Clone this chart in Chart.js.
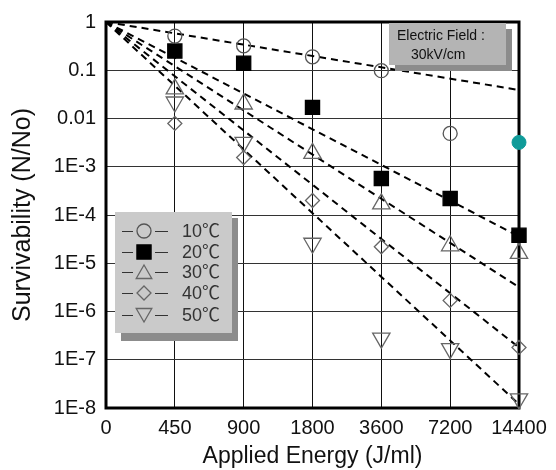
<!DOCTYPE html>
<html>
<head>
<meta charset="utf-8">
<script src="https://cdn.jsdelivr.net/npm/chart.js@4/dist/chart.umd.min.js"></script>
<style>
  html, body { margin: 0; padding: 0; background: #fff; }
  #wrap { width: 556px; height: 470px; }
</style>
</head>
<body>
<div id="wrap"><canvas id="c" width="556" height="470"></canvas></div>
<script>
// ---- data ----
const xLabels = ['0', '450', '900', '1800', '3600', '7200', '14400'];
const yTickValues = [1e-8, 1e-7, 1e-6, 1e-5, 1e-4, 1e-3, 0.01, 0.1, 1];
const yTickLabels = ['1E-8', '1E-7', '1E-6', '1E-5', '1E-4', '1E-3', '0.01', '0.1', '1'];
const seriesNames = ['10\u2103', '20\u2103', '30\u2103', '40\u2103', '50\u2103'];
const s10 = [null, 0.51, 0.32, 0.19, 0.098, 0.0049, null];
const s20 = [null, 0.25, 0.14, 0.017, 5.7e-4, 2.2e-4, 3.8e-5];
const s30 = [null, 0.041, 0.020, 1.9e-3, 1.7e-4, 2.3e-5, 1.6e-5];
const s40 = [null, 0.0079, 1.55e-3, 2.0e-4, 2.2e-5, 1.7e-6, 1.8e-7];
const s50 = [null, 0.022, 3.2e-3, 2.6e-5, 2.8e-7, 1.7e-7, 1.55e-8];
const tealPoint = [null, null, null, null, null, null, 3.2e-3];
// fitted lines: start value at index 0, end value at index 6
const fitStart = [1, 1, 1, 1, 1];
const fitEnd = [0.039, 3.6e-5, 3.2e-6, 1.8e-7, 1.2e-8];
const boxText = ['Electric Field :', '30kV/cm'];

const toPts = arr => arr.map((v, i) => v == null ? null : { x: i, y: v }).filter(p => p);

const markerStyles = [
  { pointStyle: 'circle', radius: 7, fill: 'rgba(0,0,0,0)', stroke: '#555', rotation: 0 },
  { pointStyle: 'rect', radius: 10, fill: '#000', stroke: '#000', rotation: 0 },
  { pointStyle: 'triangle', radius: 10, fill: 'rgba(0,0,0,0)', stroke: '#666', rotation: 0 },
  { pointStyle: 'rectRot', radius: 7, fill: 'rgba(0,0,0,0)', stroke: '#666', rotation: 0 },
  { pointStyle: 'triangle', radius: 10, fill: 'rgba(0,0,0,0)', stroke: '#666', rotation: 180 }
];
const seriesData = [s10, s20, s30, s40, s50];

const datasets = [];
fitEnd.forEach((e, k) => {
  datasets.push({
    label: 'fit' + k,
    data: [{ x: 0, y: fitStart[k] }, { x: 6, y: e }],
    borderColor: '#000', borderWidth: 2, borderDash: [7, 5],
    pointRadius: 0, showLine: true, fill: false, clip: false, order: 2
  });
});
seriesData.forEach((arr, k) => {
  const m = markerStyles[k];
  datasets.push({
    label: seriesNames[k],
    data: toPts(arr),
    showLine: false,
    pointStyle: m.pointStyle, pointRadius: m.radius, pointRotation: m.rotation,
    pointBackgroundColor: m.fill, pointBorderColor: m.stroke, pointBorderWidth: 1.3,
    pointHoverRadius: m.radius, clip: false, order: 1
  });
});
datasets.push({
  label: 'teal',
  data: toPts(tealPoint),
  showLine: false, pointStyle: 'circle', pointRadius: 7,
  pointBackgroundColor: '#0f9b99', pointBorderColor: '#0f9b99', pointBorderWidth: 1,
  clip: false, order: 0
});

function drawMarker(ctx, m, x, y) {
  ctx.save();
  ctx.lineWidth = 1.3;
  ctx.strokeStyle = m.stroke;
  ctx.fillStyle = m.fill;
  ctx.beginPath();
  const r = m.radius;
  if (m.pointStyle === 'circle') {
    ctx.arc(x, y, r, 0, Math.PI * 2);
  } else if (m.pointStyle === 'rect') {
    const s = r * Math.SQRT1_2;
    ctx.rect(x - s, y - s, 2 * s, 2 * s);
  } else if (m.pointStyle === 'rectRot') {
    ctx.moveTo(x, y - r); ctx.lineTo(x + r, y); ctx.lineTo(x, y + r); ctx.lineTo(x - r, y); ctx.closePath();
  } else if (m.pointStyle === 'triangle') {
    let a = m.rotation * Math.PI / 180;
    for (let i = 0; i < 3; i++) {
      const px = x + Math.sin(a) * r, py = y - Math.cos(a) * r;
      if (i === 0) ctx.moveTo(px, py); else ctx.lineTo(px, py);
      a += 2 * Math.PI / 3;
    }
    ctx.closePath();
  }
  ctx.fill();
  ctx.stroke();
  ctx.restore();
}

const framePlugin = {
  id: 'frame',
  beforeDatasetsDraw(chart) {
    const { ctx, chartArea: a } = chart;
    ctx.save();
    ctx.strokeStyle = '#000';
    ctx.lineWidth = 3;
    ctx.strokeRect(a.left, a.top, a.right - a.left, a.bottom - a.top);
    ctx.restore();
  },
  afterDraw(chart) {
    const { ctx } = chart;
    ctx.save();
    // legend box with shadow
    ctx.fillStyle = '#8c8c8c';
    ctx.fillRect(121, 218, 117, 123);
    ctx.fillStyle = '#cacaca';
    ctx.fillRect(115, 212, 117, 121);
    const rowsY = [231, 252, 272, 293, 315];
    rowsY.forEach((y, k) => {
      ctx.strokeStyle = '#333';
      ctx.lineWidth = 1.2;
      ctx.beginPath();
      ctx.moveTo(122, y + 0.5); ctx.lineTo(133, y + 0.5);
      ctx.moveTo(155, y + 0.5); ctx.lineTo(168, y + 0.5);
      ctx.stroke();
      const m = Object.assign({}, markerStyles[k]);
      m.radius = m.pointStyle === 'rect' ? 10 : (m.pointStyle === 'triangle' ? 9 : 7);
      if (m.pointStyle === 'triangle' && m.rotation === 0) drawMarker(ctx, m, 144, y + 2);
      else if (m.pointStyle === 'triangle') drawMarker(ctx, m, 144, y - 2);
      else drawMarker(ctx, m, 144, y);
      ctx.fillStyle = '#333';
      ctx.font = '18px "Liberation Sans", "Noto Sans CJK KR", sans-serif';
      ctx.textBaseline = 'middle';
      ctx.textAlign = 'left';
      ctx.fillText(seriesNames[k], 182, y + 1);
    });
    // electric field box with shadow
    ctx.fillStyle = '#8c8c8c';
    ctx.fillRect(395, 29, 117, 42);
    ctx.fillStyle = '#b4b4b4';
    ctx.fillRect(389, 23, 117, 42);
    ctx.fillStyle = '#111';
    ctx.font = '14px "Liberation Sans", Arial, sans-serif';
    ctx.textBaseline = 'middle';
    ctx.textAlign = 'left';
    ctx.fillText(boxText[0], 397, 36);
    ctx.fillText(boxText[1], 411, 55);
    ctx.restore();
  }
};

new Chart(document.getElementById('c'), {
  type: 'scatter',
  data: { datasets },
  plugins: [framePlugin],
  options: {
    responsive: false,
    animation: false,
    events: [],
    layout: { padding: { top: 21, right: 37, left: 0, bottom: 0 } },
    plugins: { legend: { display: false }, tooltip: { enabled: false } },
    scales: {
      x: {
        type: 'linear', min: 0, max: 6,
        afterFit(s) { s.height = 62; },
        grid: { color: '#111', lineWidth: 1, drawTicks: false },
        border: { display: false },
        ticks: {
          stepSize: 1, autoSkip: false, maxRotation: 0, padding: 8,
          color: '#111',
          font: { family: '"Liberation Sans", Arial, sans-serif', size: 20 },
          callback: v => xLabels[v]
        },
        title: {
          display: true, text: 'Applied Energy (J/ml)', color: '#111',
          font: { family: '"Liberation Sans", Arial, sans-serif', size: 23 },
          padding: { top: 0, bottom: 0 }
        }
      },
      y: {
        type: 'logarithmic', min: 1e-8, max: 1,
        afterFit(s) { s.width = 106; },
        afterBuildTicks(s) { s.ticks = yTickValues.map(v => ({ value: v })); },
        grid: { color: '#333', lineWidth: 1, drawTicks: false },
        border: { display: false },
        ticks: {
          padding: 10, color: '#111',
          font: { family: '"Liberation Sans", Arial, sans-serif', size: 20 },
          callback: (v) => { const i = yTickValues.findIndex(t => Math.abs(Math.log10(t) - Math.log10(v)) < 1e-6); return i >= 0 ? yTickLabels[i] : ''; }
        },
        title: {
          display: true, text: 'Survivability (N/No)', color: '#111',
          font: { family: '"Liberation Sans", Arial, sans-serif', size: 25 },
          padding: { top: 8, bottom: 0 }
        }
      }
    }
  }
});
</script>
</body>
</html>
